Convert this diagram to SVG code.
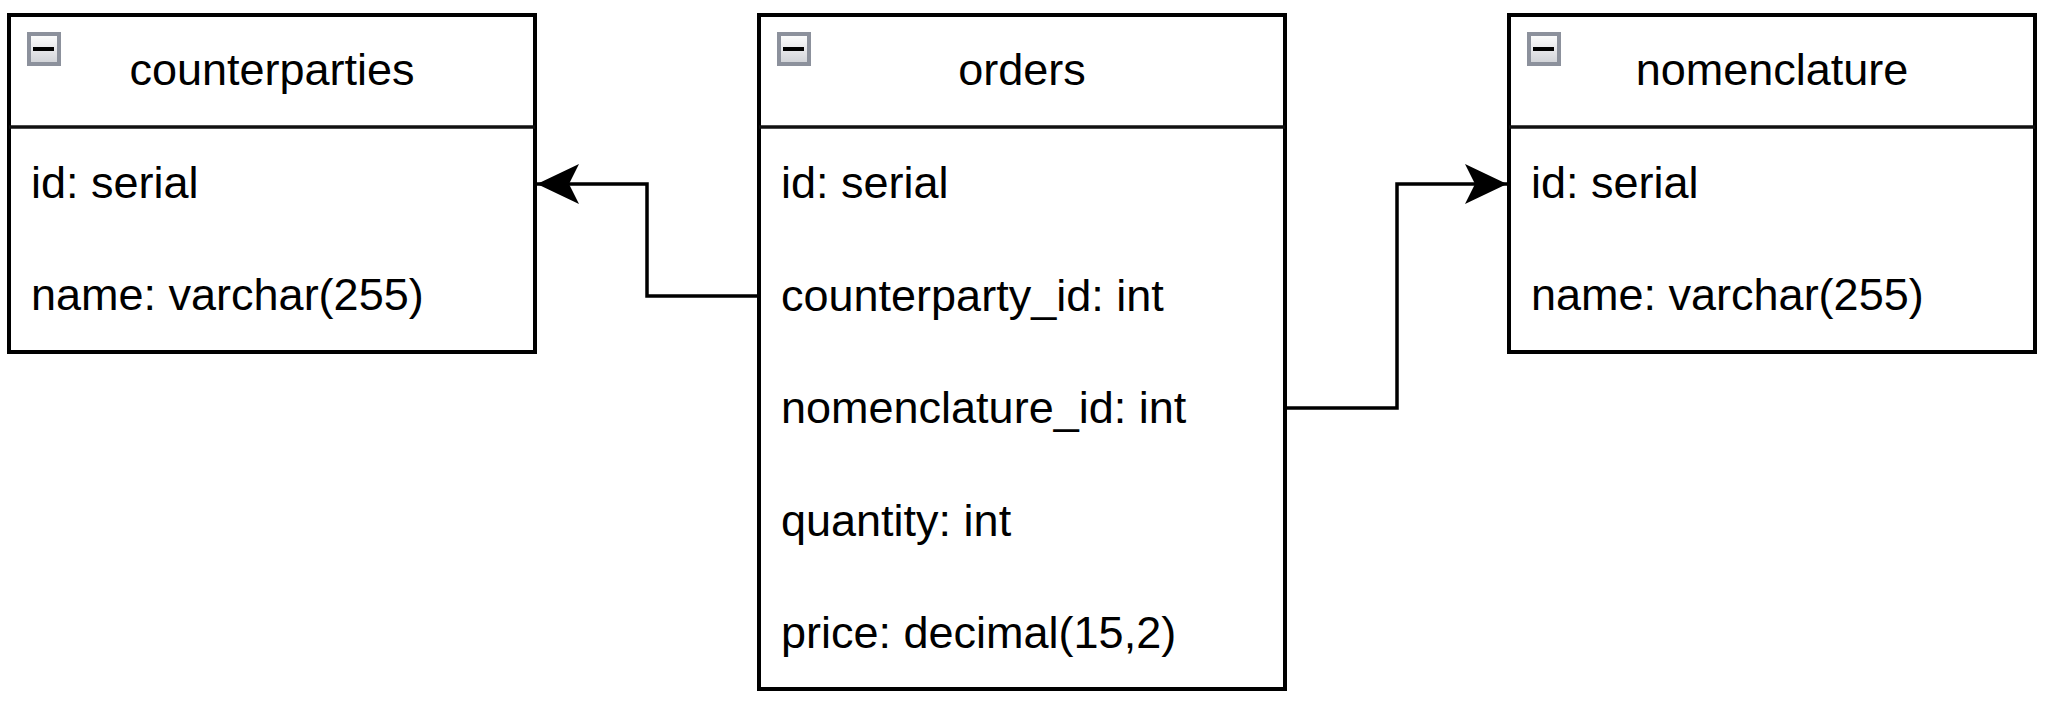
<svg xmlns="http://www.w3.org/2000/svg" width="2053" height="704" viewBox="0 0 2053 704">
<style>
.box{fill:#ffffff;stroke:#000000;stroke-width:4}
.sep{stroke:#111111;stroke-width:3.5}
.t{font-family:"Liberation Sans",Arial,sans-serif;font-size:45px;fill:#000000}
.title{text-anchor:middle}
.edge{fill:none;stroke:#000000;stroke-width:3.5}
.icon{fill:url(#ig);stroke:#8c919c;stroke-width:4}
</style>
<defs>
<linearGradient id="ig" x1="0" y1="0" x2="0" y2="1">
<stop offset="0" stop-color="#ffffff"/>
<stop offset="1" stop-color="#cfd1d6"/>
</linearGradient>
<marker id="arr" markerUnits="userSpaceOnUse" markerWidth="44" markerHeight="44" viewBox="0 0 44 44" refX="42" refY="22" orient="auto">
<path d="M42,22 L0,2 L10,22 L0,42 Z" fill="#000000"/>
</marker>
</defs>
<rect width="2053" height="704" fill="#ffffff"/>
<g id="counterparties">
<rect class="box" x="9" y="15" width="526" height="337"/>
<line class="sep" x1="9" y1="127" x2="535" y2="127"/>
<rect class="icon" x="29" y="34" width="30" height="30"/>
<rect x="33" y="47" width="21" height="4" fill="#000000"/>
<text class="t title" x="272" y="85">counterparties</text>
<text class="t" x="31" y="198">id: serial</text>
<text class="t" x="31" y="310">name: varchar(255)</text>
</g>
<g id="orders">
<rect class="box" x="759" y="15" width="526" height="674"/>
<line class="sep" x1="759" y1="127" x2="1285" y2="127"/>
<rect class="icon" x="779" y="34" width="30" height="30"/>
<rect x="783" y="47" width="21" height="4" fill="#000000"/>
<text class="t title" x="1022" y="85">orders</text>
<text class="t" x="781" y="198">id: serial</text>
<text class="t" x="781" y="310.5">counterparty_id: int</text>
<text class="t" x="781" y="423">nomenclature_id: int</text>
<text class="t" x="781" y="535.5">quantity: int</text>
<text class="t" x="781" y="648">price: decimal(15,2)</text>
</g>
<g id="nomenclature">
<rect class="box" x="1509" y="15" width="526" height="337"/>
<line class="sep" x1="1509" y1="127" x2="2035" y2="127"/>
<rect class="icon" x="1529" y="34" width="30" height="30"/>
<rect x="1533" y="47" width="21" height="4" fill="#000000"/>
<text class="t title" x="1772" y="85">nomenclature</text>
<text class="t" x="1531" y="198">id: serial</text>
<text class="t" x="1531" y="310">name: varchar(255)</text>
</g>
<g id="connectors">
<polyline class="edge" points="759,296 647,296 647,184 537,184" marker-end="url(#arr)"/>
<polyline class="edge" points="1285,408 1397,408 1397,184 1507,184" marker-end="url(#arr)"/>
</g>
</svg>
